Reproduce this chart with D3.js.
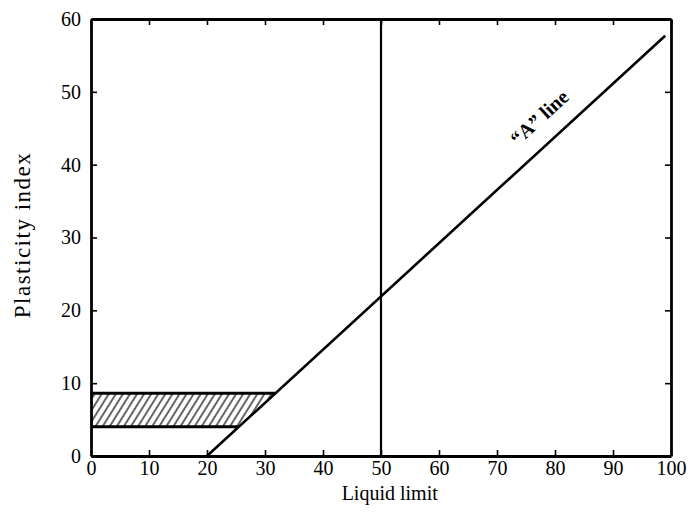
<!DOCTYPE html>
<html>
<head>
<meta charset="utf-8">
<script src="https://cdn.jsdelivr.net/npm/d3@7"></script>
<style>
  body { margin: 0; background: #fff; }
  text { font-family: "Liberation Serif", "DejaVu Serif", serif; fill: #000; }
</style>
</head>
<body>
<svg id="chart"></svg>
<script>
// axis ticks
xTicks=[0,10,20,30,40,50,60,70,80,90,100];
yTicks=[0,10,20,30,40,50,60];
// "A" line end points (liquid limit, plasticity index)
aLineLL=[20,99];
aLinePI=[0,57.7];
// vertical divider at liquid limit 50
dividerLL=50;
// hatched band between these plasticity index values
bandPI=[4,8.6];

W=695; H=519;
margin={left:91,right:24,top:19,bottom:63};

svg=d3.select("#chart").attr("width",W).attr("height",H);

x=d3.scaleLinear().domain([0,100]).range([margin.left,W-margin.right]);
y=d3.scaleLinear().domain([0,60]).range([H-margin.bottom,margin.top]);

// A-line as function of LL
aPI=function(ll){return 0.73*(ll-20);};
aLL=function(pi){return pi/0.73+20;};

// hatch pattern
defs=svg.append("defs");
pat=defs.append("pattern")
     .attr("id","hatch")
     .attr("patternUnits","userSpaceOnUse")
     .attr("width",6).attr("height",10)
     .attr("patternTransform","rotate(32)");
pat.append("line")
     .attr("x1",1).attr("y1",0).attr("x2",1).attr("y2",10)
     .attr("stroke","#000").attr("stroke-width",1.2);

// hatched band
band=[[0,bandPI[0]],[aLL(bandPI[0]),bandPI[0]],[aLL(bandPI[1]),bandPI[1]],[0,bandPI[1]]];
svg.append("path")
     .attr("d",d3.line().x(function(d){return x(d[0])}).y(function(d){return y(d[1])})(band)+"Z")
     .attr("fill","url(#hatch)");
bandPI.forEach(function(pi){
     svg.append("line")
          .attr("x1",x(0)).attr("x2",x(aLL(pi)))
          .attr("y1",y(pi)).attr("y2",y(pi))
          .attr("stroke","#000").attr("stroke-width",3);
});

// vertical line LL=50
svg.append("line")
     .attr("x1",x(dividerLL)).attr("x2",x(dividerLL))
     .attr("y1",y(0)).attr("y2",y(60))
     .attr("stroke","#000").attr("stroke-width",2.2);

// A line
svg.append("line")
     .attr("x1",x(aLineLL[0])).attr("y1",y(aLinePI[0]))
     .attr("x2",x(aLineLL[1])).attr("y2",y(aLinePI[1]))
     .attr("stroke","#000").attr("stroke-width",2.6);

// A-line label, set parallel to the line
rad=Math.atan((y(0)-y(0.73))/(x(1)-x(0)));
angle=-rad*180/Math.PI;
lx=x(80.2)-18*Math.sin(rad), ly=y(aPI(80.2))-18*Math.cos(rad);
svg.append("text")
     .attr("transform","translate("+lx+","+ly+") rotate("+angle+")")
     .attr("text-anchor","middle")
     .attr("font-size","20px")
     .attr("font-weight","bold")
     .text("\u201CA\u201D line");

// axes with inward ticks
svg.append("g").attr("transform","translate(0,"+y(0)+")")
     .call(d3.axisBottom(x).tickValues(xTicks).tickSizeInner(-6).tickSizeOuter(0).tickPadding(5));
svg.append("g").attr("transform","translate(0,"+y(60)+")")
     .call(d3.axisTop(x).tickValues(xTicks).tickSizeInner(-6).tickSizeOuter(0).tickFormat(""));
svg.append("g").attr("transform","translate("+x(0)+",0)")
     .call(d3.axisLeft(y).tickValues(yTicks).tickSizeInner(-6).tickSizeOuter(0).tickPadding(10));
svg.append("g").attr("transform","translate("+x(100)+",0)")
     .call(d3.axisRight(y).tickValues(yTicks).tickSizeInner(-6).tickSizeOuter(0).tickFormat(""));

svg.selectAll(".domain").attr("stroke","#000").attr("stroke-width",2.8);
svg.selectAll(".tick line").attr("stroke","#000").attr("stroke-width",1.6);
svg.selectAll(".tick text")
     .attr("font-family","Liberation Serif, DejaVu Serif, serif")
     .attr("font-size","20px").attr("fill","#000");

// axis titles
svg.append("text")
     .attr("x",x(51.5)).attr("y",500)
     .attr("text-anchor","middle")
     .attr("font-size","20px")
     .text("Liquid limit");
svg.append("text")
     .attr("transform","translate(30,235) rotate(-90)")
     .attr("text-anchor","middle")
     .attr("font-size","23px")
     .attr("letter-spacing","1.5px")
     .text("Plasticity index");
</script>
</body>
</html>
